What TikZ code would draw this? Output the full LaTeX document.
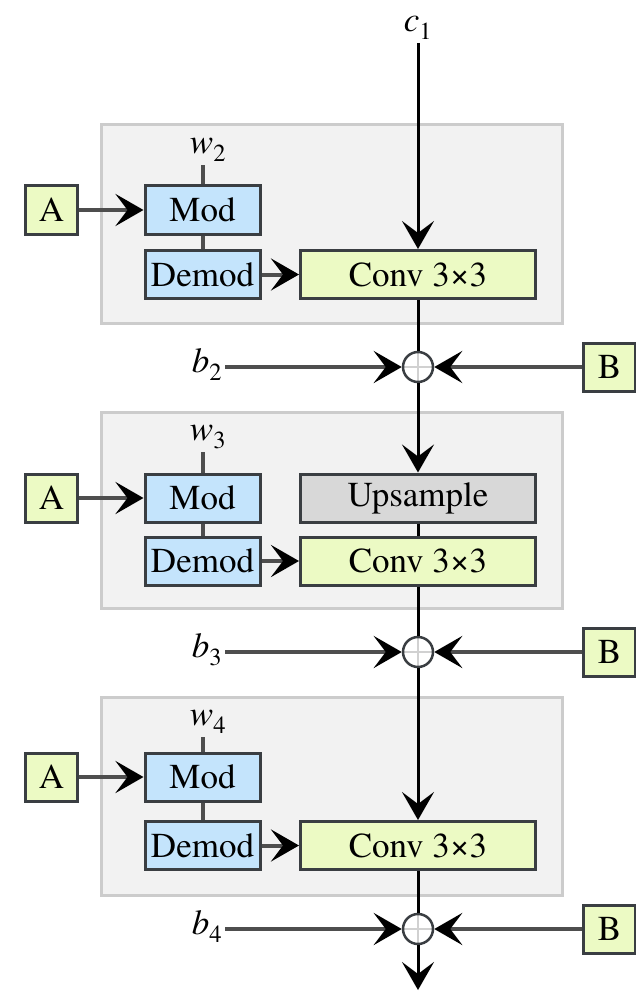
\documentclass[tikz,border=0pt]{standalone}
\usepackage{fontspec}
\setmainfont{texgyretermes}[Extension=.otf, UprightFont=*-regular, ItalicFont=*-italic,
  BoldFont=*-bold, BoldItalicFont=*-bolditalic]
\usetikzlibrary{arrows.meta}
\definecolor{modblue}{RGB}{196,228,252}
\definecolor{convgreen}{RGB}{236,250,196}
\definecolor{upgray}{RGB}{216,216,216}
\definecolor{panelgray}{RGB}{242,242,242}
\definecolor{panelline}{RGB}{204,204,204}
\definecolor{edgegray}{RGB}{58,62,66}
\definecolor{wiregray}{RGB}{78,78,78}

\begin{document}
\begin{tikzpicture}[x=1pt,y=-1pt, line join=miter,
    font=\fontsize{35}{40}\selectfont,
    panel/.style={draw=panelline, line width=3pt, fill=panelgray},
    opbox/.style={draw=edgegray, line width=3pt, minimum height=48pt, inner sep=0pt},
    modbox/.style={opbox, fill=modblue, minimum width=115pt},
    convbox/.style={opbox, fill=convgreen, minimum width=235pt},
    upbox/.style={opbox, fill=upgray, minimum width=235pt},
    affbox/.style={opbox, fill=convgreen, minimum width=52pt},
    sumnode/.style={circle, draw=edgegray, line width=2.5pt, fill=white, minimum size=30pt, inner sep=0pt,
      path picture={\draw[black!18, line width=1.5pt] (path picture bounding box.north) -- (path picture bounding box.south)
        (path picture bounding box.west) -- (path picture bounding box.east);}},
    lbl/.style={inner sep=3pt},
    flow/.style={line width=3pt, -{Stealth[length=28pt,width=32pt,inset=12pt]}},
    wire/.style={draw=wiregray, line width=4pt},
    feed/.style={wire, -{Stealth[length=28pt,width=32pt,inset=12pt,color=black]}}]
    \useasboundingbox (0,0) rectangle (636,1003);

    % panels
    \draw[panel] (101,125) rectangle (562,323);
    \draw[panel] (101,412) rectangle (562,608);
    \draw[panel] (101,697) rectangle (562,895);

    \node[lbl] (c1) at (418,28) {\textit{c}\textsubscript{1}};

    % block 1
    \node[lbl] (w2) at (208,150) {\textit{w}\textsubscript{2}};
    \node[affbox] (A1) at (51.5,210) {A};
    \node[modbox] (mod1) at (202.5,210) {Mod};
    \node[modbox] (demod1) at (202.5,274.5) {Demod};
    \node[convbox] (conv1) at (418,274.5) {Conv 3×3};
    \node[sumnode] (s1) at (418,367) {};
    \node[lbl] (b2) at (207,365) {\textit{b}\textsubscript{2}};
    \node[affbox] (B1) at (609.5,367) {B};

    % block 2
    \node[lbl] (w3) at (208,437) {\textit{w}\textsubscript{3}};
    \node[affbox] (A2) at (51.5,498) {A};
    \node[modbox] (mod2) at (202.5,498) {Mod};
    \node[modbox] (demod2) at (202.5,561) {Demod};
    \node[upbox] (up2) at (418,498) {Upsample};
    \node[convbox] (conv2) at (418,561) {Conv 3×3};
    \node[sumnode] (s2) at (418,652) {};
    \node[lbl] (b3) at (207,650) {\textit{b}\textsubscript{3}};
    \node[affbox] (B2) at (609.5,652) {B};

    % block 3
    \node[lbl] (w4) at (208,722) {\textit{w}\textsubscript{4}};
    \node[affbox] (A3) at (51.5,777) {A};
    \node[modbox] (mod3) at (202.5,777) {Mod};
    \node[modbox] (demod3) at (202.5,845.5) {Demod};
    \node[convbox] (conv3) at (418,845.5) {Conv 3×3};
    \node[sumnode] (s3) at (418,929) {};
    \node[lbl] (b4) at (207,927) {\textit{b}\textsubscript{4}};
    \node[affbox] (B3) at (609.5,929) {B};
    \coordinate (out) at (418,990);

    % main path
    \draw[flow] (c1.south -| conv1) -- (conv1);
    \draw[line width=3pt] (conv1) -- (s1);
    \draw[flow] (s1) -- (up2);
    \draw[line width=3pt] (up2) -- (conv2);
    \draw[line width=3pt] (conv2) -- (s2);
    \draw[flow] (s2) -- (conv3);
    \draw[line width=3pt] (conv3) -- (s3);
    \draw[flow] (s3) -- (out);

    % side inputs
    \draw[wire] (mod1.north) -- (mod1.north |- w2.south);
    \draw[wire] (mod1) -- (demod1);
    \draw[feed] (A1) -- (mod1);
    \draw[feed] (demod1) -- (conv1);
    \draw[feed] (b2.east |- s1) -- (s1);
    \draw[feed] (B1) -- (s1);

    \draw[wire] (mod2.north) -- (mod2.north |- w3.south);
    \draw[wire] (mod2) -- (demod2);
    \draw[feed] (A2) -- (mod2);
    \draw[feed] (demod2) -- (conv2);
    \draw[feed] (b3.east |- s2) -- (s2);
    \draw[feed] (B2) -- (s2);

    \draw[wire] (mod3.north) -- (mod3.north |- w4.south);
    \draw[wire] (mod3) -- (demod3);
    \draw[feed] (A3) -- (mod3);
    \draw[feed] (demod3) -- (conv3);
    \draw[feed] (b4.east |- s3) -- (s3);
    \draw[feed] (B3) -- (s3);
\end{tikzpicture}
\end{document}
